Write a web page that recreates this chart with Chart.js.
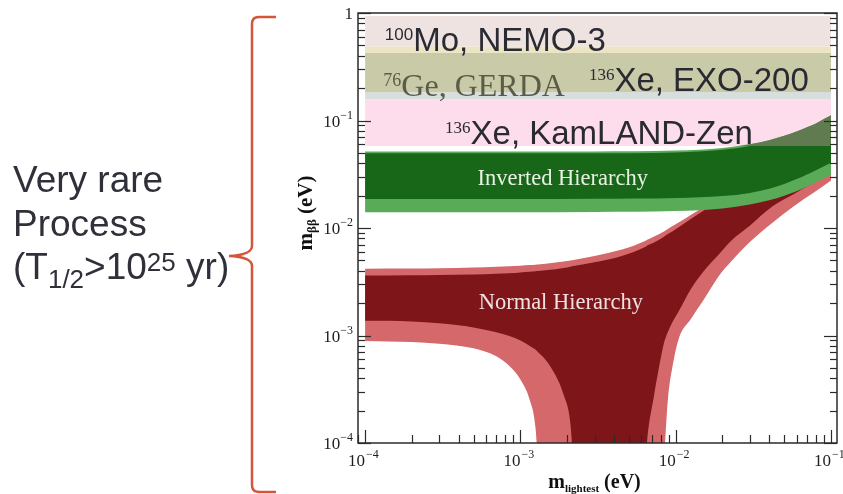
<!DOCTYPE html>
<html lang="en">
<head>
<meta charset="UTF-8">
<title>m_bb vs m_lightest</title>
<script src="https://cdn.jsdelivr.net/npm/chart.js"></script>
<style>
  body { margin: 0; background: #fff; }
  #wrap { position: relative; width: 843px; height: 494px; }
  #plot, #side { position: absolute; left: 0; top: 0; }
</style>
</head>
<body>
<div id="wrap">
  <canvas id="plot" width="843" height="494"></canvas>
  <svg id="side" width="843" height="494">
    <g font-family="'Liberation Sans', Arial, sans-serif" font-size="37" fill="#30303a">
      <text x="13" y="192">Very rare</text>
      <text x="13" y="236">Process</text>
      <text x="13" y="279">(T<tspan font-size="26" dy="9">1/2</tspan><tspan dy="-9">&gt;10</tspan><tspan font-size="26" dy="-8">25</tspan><tspan dy="8"> yr)</tspan></text>
    </g>
    <path d="M 276 17 L 259 17 Q 252 17 252 24 L 252 246 Q 252 255 229 256 Q 252 257 252 266 L 252 485 Q 252 492 259 492 L 276 492"
          fill="none" stroke="#d4553c" stroke-width="2.5"/>
  </svg>
</div>
<script>
// experimental limit bands (eV), drawn from x = 1e-4 to 1e-1
const bandNames = ['100Mo NEMO-3', 'overlap', '76Ge GERDA / 136Xe EXO-200', 'overlap', '136Xe KamLAND-Zen'];
const bandHigh = [0.94, 0.49, 0.425, 0.184, 0.158];
const bandLow = [0.49, 0.425, 0.184, 0.158, 0.058];
const bandX = [1e-4, 1e-1];

// inverted hierarchy
const ihX = [1e-4, 1e-3, 3e-3, 0.01, 0.02, 0.03, 0.04, 0.05, 0.06, 0.07, 0.08, 0.09, 0.1];
const ihOuterTop = [0.0515, 0.0515, 0.0516, 0.0525, 0.0555, 0.060, 0.0655, 0.072, 0.079, 0.0865, 0.094, 0.103, 0.112];
const ihInnerTop = [0.0495, 0.0495, 0.0496, 0.0505, 0.0535, 0.058, 0.0635, 0.070, 0.077, 0.084, 0.092, 0.100, 0.108];
const ihInnerBottom = [0.0186, 0.0186, 0.0187, 0.019, 0.0198, 0.0212, 0.0232, 0.0257, 0.0285, 0.0315, 0.0345, 0.0375, 0.0405];
const ihOuterBottom = [0.0140, 0.0140, 0.0141, 0.0144, 0.0152, 0.0165, 0.0181, 0.020, 0.022, 0.0243, 0.0267, 0.029, 0.031];

// part of the inverted band that sits inside the KamLAND-Zen band
const ovX = [0.026, 0.03, 0.04, 0.05, 0.06, 0.07, 0.08, 0.09, 0.1];
const ovTop = [0.058, 0.060, 0.0655, 0.072, 0.079, 0.0865, 0.094, 0.103, 0.112];
const ovBottom = [0.058, 0.058, 0.058, 0.058, 0.058, 0.058, 0.058, 0.058, 0.058];

// normal hierarchy (values under 1e-4 lie below the axis)
const nhX = [1e-4, 2e-4, 3e-4, 5e-4, 7e-4, 8.5e-4, 1e-3, 1.15e-3, 1.25e-3, 1.3e-3, 1.5e-3, 1.9e-3, 2.1e-3, 2.2e-3, 3e-3, 4.5e-3,
             6.4e-3, 6.6e-3, 7.2e-3, 8.4e-3, 8.6e-3, 8.9e-3, 9.5e-3, 0.0105, 0.0125, 0.015, 0.019, 0.0225, 0.03, 0.042, 0.057, 0.078, 0.1];
const nhOuterTop = [0.00418, 0.0042, 0.00422, 0.00428, 0.00435, 0.0044, 0.00446, 0.00452, 0.00456, 0.00458, 0.00467, 0.00487, 0.00498, 0.00504, 0.0055, 0.0063,
                    0.0076, 0.0078, 0.0083, 0.0093, 0.0095, 0.0098, 0.0104, 0.0113, 0.0132, 0.0156, 0.0195, 0.023, 0.0305, 0.0425, 0.0575, 0.0785, 0.1];
const nhInnerTop = [0.00362, 0.00364, 0.00366, 0.0037, 0.00376, 0.0038, 0.00386, 0.00392, 0.00396, 0.00398, 0.00406, 0.00425, 0.00436, 0.00442, 0.0048, 0.0055,
                    0.0067, 0.0069, 0.0073, 0.0083, 0.0085, 0.0088, 0.0093, 0.0102, 0.0121, 0.0144, 0.0181, 0.0214, 0.0285, 0.040, 0.0545, 0.0745, 0.095];
const nhInnerBottom = [0.00137, 0.00135, 0.0013, 0.00119, 0.00107, 0.00099, 0.0009, 0.0008, 0.00074, 0.0007, 0.00056, 0.00028, 0.00015, 6e-5, 1e-6, 1e-6,
                       7e-5, 0.00012, 0.00026, 0.00085, 0.00095, 0.00108, 0.00132, 0.0017, 0.0027, 0.0039, 0.0057, 0.0075, 0.0105, 0.0159, 0.0205, 0.0268, 0.033];
const nhOuterBottom = [0.00089, 0.00087, 0.00084, 0.00076, 0.00064, 0.00052, 0.00039, 0.00025, 0.00014, 6e-5, 1e-6, 1e-6, 1e-6, 1e-6, 1e-6, 1e-6,
                       1e-6, 1e-6, 1e-6, 7e-5, 0.00012, 0.00025, 0.0005, 0.00095, 0.00142, 0.0021, 0.0036, 0.0048, 0.0074, 0.0112, 0.0158, 0.0215, 0.0277];

// axis ticks
const xTickVals = [1e-4, 1e-3, 1e-2, 1e-1];
const xTickExps = ['\u22124', '\u22123', '\u22122', '\u22121'];
const yTickVals = [1e-4, 1e-3, 1e-2, 1e-1, 1];
const yTickExps = ['\u22124', '\u22123', '\u22122', '\u22121', ''];

const bandColors = ['#efe3e1', '#ebe5c6', '#c9caa8', '#d7dedb', '#fddcec'];
const SERIF = '"Liberation Serif", "Times New Roman", serif';
const SANS = '"Liberation Sans", Arial, sans-serif';

const pts = (xs, ys) => xs.map((x, i) => ({x: x, y: ys[i]}));
function area(label, xs, top, bottom, color) {
  const base = {borderWidth: 0, borderColor: 'transparent', pointRadius: 0, cubicInterpolationMode: 'monotone'};
  return [
    Object.assign({label: label, data: pts(xs, top), fill: '+1', backgroundColor: color}, base),
    Object.assign({label: label + ' (low)', data: pts(xs, bottom), fill: false}, base)
  ];
}

// first in the list is drawn on top
let datasets = [];
datasets = datasets.concat(area('IH in KamLAND-Zen', ovX, ovTop, ovBottom, '#5f7b4f'));
datasets = datasets.concat(area('IH inner', ihX, ihInnerTop, ihInnerBottom, '#186618'));
datasets = datasets.concat(area('IH outer', ihX, ihOuterTop, ihOuterBottom, '#5aab58'));
datasets = datasets.concat(area('NH inner', nhX, nhInnerTop, nhInnerBottom, '#7d1519'));
datasets = datasets.concat(area('NH outer', nhX, nhOuterTop, nhOuterBottom, '#d4686a'));
bandNames.forEach((n, i) => {
  datasets = datasets.concat(area(n, bandX, [bandHigh[i], bandHigh[i]], [bandLow[i], bandLow[i]], bandColors[i]));
});

// text inside the plot, anchored in data units
const notes = [
  {x: 1.34e-4, y: 0.44, parts: [['100', '17px ' + SANS, -11], ['Mo, NEMO-3', '33px ' + SANS, 0]], color: '#2a2a33'},
  {x: 1.31e-4, y: 0.168, parts: [['76', '18px ' + SERIF, -10], ['Ge, GERDA', '32px ' + SERIF, 0]], color: '#5c5b48'},
  {x: 2.76e-3, y: 0.188, parts: [['136', '17px ' + SERIF, -11], ['Xe, EXO-200', '33px ' + SANS, 0]], color: '#2a2a33'},
  {x: 3.27e-4, y: 0.0605, parts: [['136', '17px ' + SERIF, -11], ['Xe, KamLAND-Zen', '33px ' + SANS, 0]], color: '#2a2a33'},
  {x: 1.875e-3, y: 0.0251, center: true, parts: [['Inverted Hierarchy', '22.5px ' + SERIF, 0]], color: '#e9f1e5'},
  {x: 1.82e-3, y: 0.00175, center: true, parts: [['Normal Hierarchy', '22.5px ' + SERIF, 0]], color: '#f3e0e0'}
];

function drawParts(ctx, x0, y0, parts, align) {
  let w = 0;
  parts.forEach(p => { ctx.font = p[1]; w += ctx.measureText(p[0]).width; });
  let x = align === 'center' ? x0 - w / 2 : (align === 'right' ? x0 - w : x0);
  ctx.textAlign = 'left';
  ctx.textBaseline = 'alphabetic';
  parts.forEach(p => {
    ctx.font = p[1];
    ctx.fillText(p[0], x, y0 + p[2]);
    x += ctx.measureText(p[0]).width;
  });
}

const decor = {
  id: 'decor',
  afterDatasetsDraw(chart) {
    const {ctx, chartArea: a, scales: {x, y}} = chart;
    ctx.save();

    notes.forEach(n => {
      ctx.fillStyle = n.color;
      drawParts(ctx, x.getPixelForValue(n.x), y.getPixelForValue(n.y), n.parts, n.center ? 'center' : 'left');
    });

    // frame
    ctx.strokeStyle = '#2b2b2b';
    ctx.lineWidth = 1.5;
    ctx.strokeRect(a.left, a.top, a.right - a.left, a.bottom - a.top);

    // log ticks from the scale range
    const seg = (x1, y1, x2, y2) => { ctx.beginPath(); ctx.moveTo(x1, y1); ctx.lineTo(x2, y2); ctx.stroke(); };
    const logTicks = s => {
      const out = [];
      for (let e = Math.floor(Math.log10(s.min)); e <= Math.ceil(Math.log10(s.max)); e++) {
        for (let k = 1; k <= 9; k++) {
          const v = k * Math.pow(10, e);
          if (v >= s.min * 0.9999 && v <= s.max * 1.0001) out.push({v: v, major: k === 1});
        }
      }
      return out;
    };
    ctx.lineWidth = 1.2;
    logTicks(x).forEach(t => {
      const px = Math.round(x.getPixelForValue(t.v)) + 0.5;
      seg(px, a.bottom, px, a.bottom - (t.major ? 13 : 8));
    });
    logTicks(y).forEach(t => {
      const py = Math.round(y.getPixelForValue(t.v)) + 0.5;
      const len = t.major ? 13 : 7;
      seg(a.left, py, a.left + len, py);
      seg(a.right, py, a.right - len, py);
    });

    // tick labels
    ctx.fillStyle = '#1e1e1e';
    xTickVals.forEach((v, i) => {
      const px = x.getPixelForValue(v);
      ctx.font = '17px ' + SERIF;
      ctx.textAlign = 'right';
      ctx.fillText('10', px, a.bottom + 23);
      ctx.font = '12px ' + SERIF;
      ctx.textAlign = 'left';
      ctx.fillText(xTickExps[i], px + 1, a.bottom + 15);
    });
    yTickVals.forEach((v, i) => {
      const py = y.getPixelForValue(v);
      const parts = yTickExps[i] ? [['10', '17px ' + SERIF, 6], [yTickExps[i], '12px ' + SERIF, -2]] : [['1', '17px ' + SERIF, 6]];
      drawParts(ctx, a.left - 5, py, parts, 'right');
    });

    // axis titles
    ctx.fillStyle = '#111';
    drawParts(ctx, (a.left + a.right) / 2 - 3, a.bottom + 45,
      [['m', 'bold 20px ' + SERIF, 0], ['lightest', 'bold 11px ' + SERIF, 4], [' (eV)', 'bold 20px ' + SERIF, 0]], 'center');
    ctx.translate(a.left - 46, (a.top + a.bottom) / 2 - 15);
    ctx.rotate(-Math.PI / 2);
    drawParts(ctx, 0, 0, [['m', 'bold 21px ' + SERIF, 0], ['\u03b2\u03b2', 'bold 13px ' + SERIF, 4], [' (eV)', 'bold 21px ' + SERIF, 0]], 'center');

    ctx.restore();
  }
};

new Chart(document.getElementById('plot'), {
  type: 'line',
  data: {datasets: datasets},
  options: {
    responsive: false,
    animation: false,
    devicePixelRatio: 1,
    layout: {padding: {left: 358, top: 13, right: 6, bottom: 51}},
    scales: {
      x: {type: 'logarithmic', min: 9.0e-5, max: 0.1093, display: false},
      y: {type: 'logarithmic', min: 1e-4, max: 1, display: false}
    },
    plugins: {legend: {display: false}, tooltip: {enabled: false}}
  },
  plugins: [decor]
});
</script>
</body>
</html>
